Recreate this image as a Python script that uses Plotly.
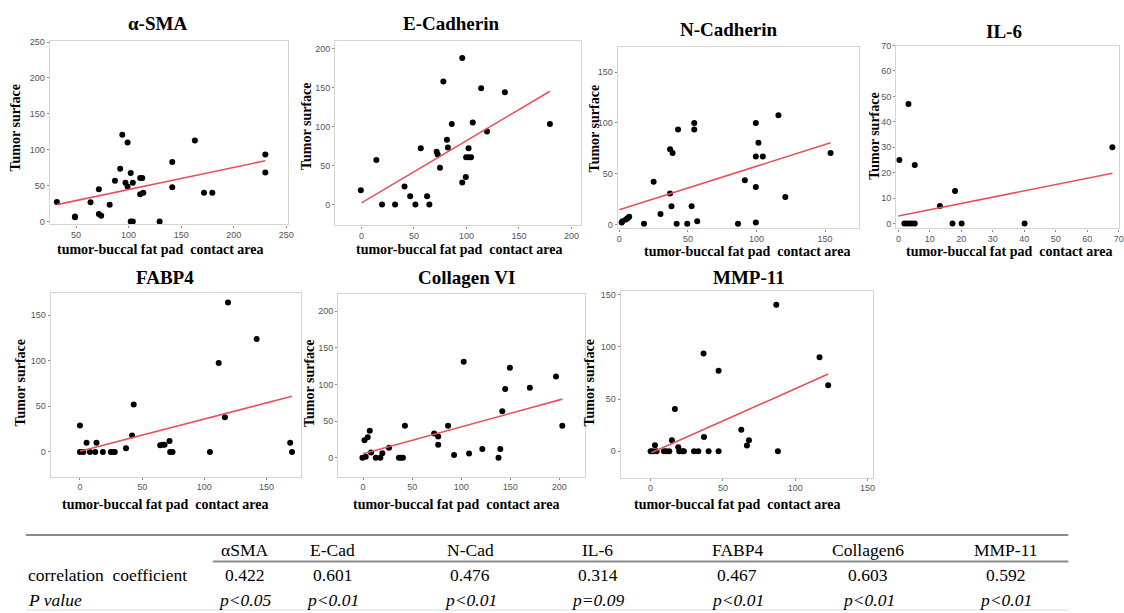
import plotly.graph_objects as go

W, H = 1124, 613

# ---------------- data ----------------
titles = ["α-SMA", "E-Cadherin", "N-Cadherin", "IL-6", "FABP4", "Collagen VI", "MMP-11"]

sma_x = [31.8, 49, 49, 63.8, 71.7, 71.7, 73.9, 82, 87, 92, 94, 97, 99, 99, 102, 104, 102, 104,
         111, 113, 111, 114, 129.5, 141.5, 141.5, 163, 171.7, 179.6, 230, 230]
sma_y = [27.3, 7, 6, 27, 45, 10.6, 8, 23.6, 57, 73.6, 121, 54, 110, 49, 67.6, 54, 0, 0,
         60.6, 60.6, 38, 40, 0, 83, 47.7, 113, 40, 40, 93.5, 68.5]
sma_fit_x = [31.8, 230]
sma_fit_y = [23.6, 84.7]

ecad_x = [-0.6, 14.2, 19.6, 32, 41, 46.4, 51.4, 56.5, 62.5, 64.7, 71.6, 72.6, 74.8, 78, 81.4,
          82.3, 86, 96, 96, 99.4, 99.7, 102, 104.4, 102, 106, 114, 119.6, 136.6, 179.5]
ecad_y = [18, 57, 0, 0, 23, 10.6, 0, 72, 10.6, 0, 67.6, 64, 47, 157.6, 83,
          73, 103, 187.6, 28, 35, 60.4, 60.4, 60.4, 72, 105, 148.8, 93.4, 143.7, 103]
ecad_fit_x = [0, 179.5]
ecad_fit_y = [2, 145]

ncad_x = [1.7, 2.2, 4.8, 6, 7.2, 18, 25, 30, 37, 37, 38, 38.8, 41.8, 42.8, 49.5, 52.7, 54.6,
          54.6, 56.8, 86.5, 91.5, 99.5, 99.5, 99.5, 99.5, 101.4, 104.6, 116, 121, 154]
ncad_y = [2, 3.2, 4.9, 6, 7.5, 0.6, 42, 10.4, 30.5, 74, 18, 70.5, 0.6, 93.5, 0.6, 18, 100,
          93.5, 3.2, 0.6, 43.5, 100, 67, 37, 2, 80.5, 67, 107.5, 27, 70.5]
ncad_fit_x = [0, 154]
ncad_fit_y = [14.6, 80.5]

il6_x = [0.3, 1.9, 2.6, 3.5, 4.3, 5.2, 3.2, 5.2, 13.2, 17.2, 18, 20.1, 40.1, 68]
il6_y = [25, 0, 0, 0, 0, 0, 47, 23, 6.9, 0, 12.8, 0, 0, 30]
il6_fit_x = [0, 68]
il6_fit_y = [3, 19.8]

fabp_x = [0, 0, 2.7, 5.3, 8, 12.3, 13.3, 18.4, 24.8, 26.7, 28, 37, 41.9, 43.2, 64.5, 66.4, 68,
          72, 72.5, 74.4, 104.5, 111.5, 116.5, 119, 142, 169, 170.5]
fabp_y = [29, 0, 0, 10, 0, 0, 10, 0, 0, 0, 0, 4, 18, 52, 7.2, 7.9, 7.9,
          12, 0, 0, 0, 97.5, 38, 163.7, 123.7, 10, 0]
fabp_fit_x = [0, 170.5]
fabp_fit_y = [0.7, 61]

col_x = [-0.7, 1.4, 2.7, 4.7, 6.8, 8.1, 12.9, 17.6, 19.6, 26.4, 36.5, 38.6, 40.6, 42.6, 72.4,
         76.5, 76.5, 86.6, 92.7, 102.5, 108, 121.5, 138, 139.8, 141.8, 144.8, 149.6, 169.9,
         196.6, 203]
col_y = [0, 24, 1.4, 28, 37, 7, 0, 0, 6, 13.5, 0, 0, 0, 43.7, 33,
         29, 17.6, 43.7, 3.6, 131, 5.9, 12, 0, 12, 63.5, 93.7, 123, 95.5,
         110.8, 43.7]
col_fit_x = [0, 203]
col_fit_y = [5.4, 80]

mmp_x = [0, 1.6, 3, 4.1, 9.2, 10.8, 12.9, 14.7, 16.8, 19.1, 19.8, 21.9, 23, 30, 33, 36.6, 36.9,
         40.1, 47, 47, 62.7, 66.6, 68, 86.9, 88, 116.8, 122.8]
mmp_y = [0, 0, 5.7, 0, 0, 0, 0, 10.4, 40.5, 3.8, 0, 0, 0, 0, 0, 93.7, 13.6,
         0, 0, 77.2, 20.6, 5.4, 10.4, 140.5, 0, 90.2, 63.3]
mmp_fit_x = [0.5, 122.8]
mmp_fit_y = [-1.6, 74]

table_cols = ["αSMA", "E-Cad", "N-Cad", "IL-6", "FABP4", "Collagen6", "MMP-11"]
table_corr = ["0.422", "0.601", "0.476", "0.314", "0.467", "0.603", "0.592"]
table_p = ["p<0.05", "p<0.01", "p<0.01", "p=0.09", "p<0.01", "p<0.01", "p<0.01"]

# ---------------- layout helpers ----------------
def X(px):
    return px / W

def Y(py):
    return 1 - py / H

panels = [
    dict(x=sma_x, y=sma_y, fx=sma_fit_x, fy=sma_fit_y, frame=(49, 289, 36, 222),
         xr=[25, 252], yr=[-4, 252], xt=[50, 100, 150, 200, 250], yt=[0, 50, 100, 150, 200, 250],
         tpos=(157, 19), ytx=15, yty=124, xty=247, xtx=160),
    dict(x=ecad_x, y=ecad_y, fx=ecad_fit_x, fy=ecad_fit_y, frame=(336, 583, 36, 223),
         xr=[-25, 209], yr=[-27, 210], xt=[0, 50, 100, 150, 200], yt=[0, 50, 100, 150, 200],
         tpos=(453, 19), ytx=307, yty=122, xty=247, xtx=460),
    dict(x=ncad_x, y=ncad_y, fx=ncad_fit_x, fy=ncad_fit_y, frame=(620, 863, 42, 226),
         xr=[-1.2, 175], yr=[-3.9, 175.3], xt=[0, 50, 100, 150], yt=[0, 50, 100, 150],
         tpos=(732, 25), ytx=597, yty=125, xty=249, xtx=750),
    dict(x=il6_x, y=il6_y, fx=il6_fit_x, fy=il6_fit_y, frame=(900, 1124, 41, 226),
         xr=[-0.7, 70.1], yr=[-1.9, 70], xt=[0, 10, 20, 30, 40, 50, 60, 70],
         yt=[0, 10, 20, 30, 40, 50, 60, 70],
         tpos=(1008, 27), ytx=878, yty=132, xty=249, xtx=1013),
    dict(x=fabp_x, y=fabp_y, fx=fabp_fit_x, fy=fabp_fit_y, frame=(50, 302, 291, 477),
         xr=[-23.5, 178], yr=[-27, 174.5], xt=[0, 50, 100, 150], yt=[0, 50, 100, 150],
         tpos=(165, 276), ytx=20, yty=382, xty=505, xtx=165),
    dict(x=col_x, y=col_y, fx=col_fit_x, fy=col_fit_y, frame=(339, 587, 292, 477),
         xr=[-25.4, 226], yr=[-25.7, 224], xt=[0, 50, 100, 150, 200], yt=[0, 50, 100, 150, 200],
         tpos=(468, 276), ytx=310, yty=382, xty=505, xtx=457),
    dict(x=mmp_x, y=mmp_y, fx=mmp_fit_x, fy=mmp_fit_y, frame=(623, 877, 289, 478),
         xr=[-20.7, 154], yr=[-25.3, 154], xt=[0, 50, 100, 150], yt=[0, 50, 100, 150],
         tpos=(752, 276), ytx=592, yty=382, xty=505, xtx=740),
]

fig = go.Figure()
annotations = []
shapes = []

serif = "Liberation Serif"
tick_font = dict(family="Liberation Sans", size=9, color="#555555")

for i, p in enumerate(panels):
    n = i + 1
    xa = "x" if n == 1 else f"x{n}"
    ya = "y" if n == 1 else f"y{n}"
    fig.add_trace(go.Scatter(x=p["x"], y=p["y"], mode="markers", xaxis=xa, yaxis=ya,
                             marker=dict(color="black", size=6), showlegend=False))
    fig.add_trace(go.Scatter(x=p["fx"], y=p["fy"], mode="lines", xaxis=xa, yaxis=ya,
                             line=dict(color="#e8505b", width=1.6), showlegend=False))
    l, r, t, b = p["frame"]
    axis_common = dict(showgrid=False, zeroline=False, showline=True, mirror=True,
                       linecolor="#d6d6cc", linewidth=1.2, ticks="outside", ticklen=2,
                       tickcolor="#888888", tickfont=tick_font, fixedrange=True)
    xkey = "xaxis" if n == 1 else f"xaxis{n}"
    ykey = "yaxis" if n == 1 else f"yaxis{n}"
    fig.update_layout(**{
        xkey: dict(domain=[X(l), X(r)], range=p["xr"], tickvals=p["xt"], anchor=ya,
                   **axis_common),
        ykey: dict(domain=[Y(b), Y(t)], range=p["yr"], tickvals=p["yt"], anchor=xa,
                   **axis_common),
    })
    annotations.append(dict(text=f"<b>{titles[i]}</b>", x=X(p["tpos"][0]), y=Y(p["tpos"][1]),
                            xref="paper", yref="paper", showarrow=False,
                            font=dict(family=serif, size=19, color="black"),
                            xanchor="center", yanchor="middle"))
    annotations.append(dict(text="<b>Tumor surface</b>", x=X(p["ytx"]), y=Y(p["yty"]),
                            xref="paper", yref="paper", showarrow=False, textangle=-90,
                            font=dict(family=serif, size=14, color="black"),
                            xanchor="center", yanchor="middle"))
    annotations.append(dict(text="<b>tumor-buccal fat pad  contact area</b>", x=X(p["xtx"]),
                            y=Y(p["xty"]), xref="paper", yref="paper", showarrow=False,
                            font=dict(family=serif, size=14, color="black"),
                            xanchor="center", yanchor="middle"))

# ---------------- table ----------------
col_centers = [245, 333, 472, 600, 740, 872, 1010]
shapes.append(dict(type="line", xref="paper", yref="paper", x0=X(25), x1=X(1073),
                   y0=Y(536), y1=Y(536), line=dict(color="#8a8a8a", width=2)))
shapes.append(dict(type="line", xref="paper", yref="paper", x0=X(213), x1=X(1073),
                   y0=Y(563), y1=Y(563), line=dict(color="#8a8a8a", width=2)))
shapes.append(dict(type="line", xref="paper", yref="paper", x0=X(25), x1=X(1073),
                   y0=Y(612), y1=Y(612), line=dict(color="#dddddd", width=1)))

tfont = dict(family=serif, size=17.5, color="black")
for cx, c, v, pv in zip(col_centers, table_cols, table_corr, table_p):
    annotations.append(dict(text=c, x=X(cx), y=Y(551), xref="paper", yref="paper",
                            showarrow=False, font=tfont, xanchor="center", yanchor="middle"))
    annotations.append(dict(text=v, x=X(cx), y=Y(577), xref="paper", yref="paper",
                            showarrow=False, font=tfont, xanchor="center", yanchor="middle"))
    annotations.append(dict(text=f"<i>{pv}</i>", x=X(cx), y=Y(602), xref="paper", yref="paper",
                            showarrow=False, font=tfont, xanchor="center", yanchor="middle"))
annotations.append(dict(text="correlation  coefficient", x=X(25), y=Y(577), xref="paper",
                        yref="paper", showarrow=False, font=tfont, xanchor="left",
                        yanchor="middle"))
annotations.append(dict(text="<i>P value</i>", x=X(25), y=Y(602), xref="paper",
                        yref="paper", showarrow=False, font=tfont, xanchor="left",
                        yanchor="middle"))

fig.update_layout(width=W, height=H, margin=dict(l=0, r=0, t=0, b=0),
                  paper_bgcolor="white", plot_bgcolor="white",
                  annotations=annotations, shapes=shapes, showlegend=False)

fig.write_html("out.html", config={"displayModeBar": False},
               post_script="document.body.style.margin='0';document.body.style.overflow='hidden';")
